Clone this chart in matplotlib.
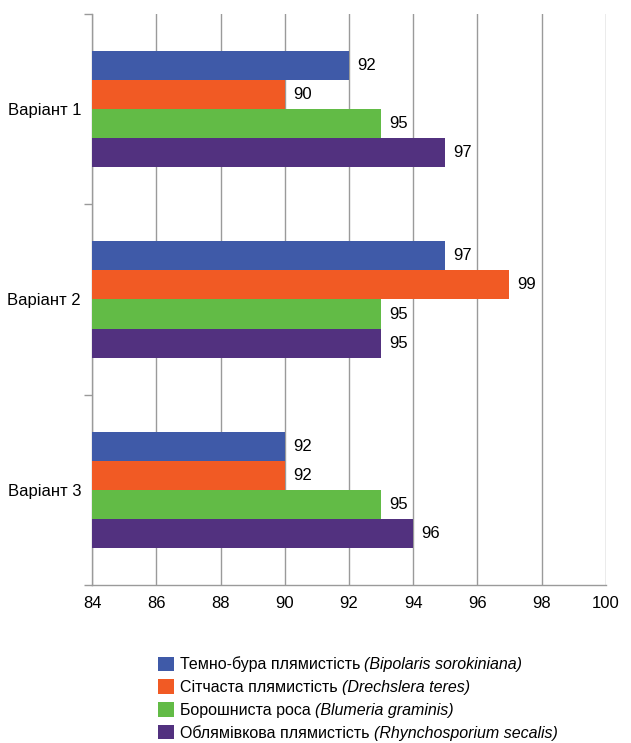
import matplotlib.pyplot as plt
import numpy as np

# ── Data ──────────────────────────────────────────────────────────────────────
variants = ["Варіант 1", "Варіант 2", "Варіант 3"]
series_names = [
    "Темно-бура плямистість",
    "Сітчаста плямистість",
    "Борошниста роса",
    "Облямівкова плямистість",
]
latin_names = [
    "(Bipolaris sorokiniana)",
    "(Drechslera teres)",
    "(Blumeria graminis)",
    "(Rhynchosporium secalis)",
]
# bar lengths as drawn
bar_values = [
    [92, 95, 90],   # темно-бура
    [90, 97, 90],   # сітчаста
    [93, 93, 93],   # борошниста роса
    [95, 93, 94],   # облямівкова
]
# numbers printed next to bars
bar_labels = [
    [92, 97, 92],
    [90, 99, 92],
    [95, 95, 95],
    [97, 95, 96],
]
colors = ["#3F5AA8", "#F15A24", "#62BB46", "#52317F"]
x_min, x_max = 84, 100

plt.rcParams["font.family"] = ["Liberation Sans", "DejaVu Sans"]

# ── Plot ──────────────────────────────────────────────────────────────────────
fig = plt.figure(figsize=(6.31, 7.43), dpi=100)
ax = fig.add_axes([0.146, 0.2127, 0.814, 0.7685])

h = 0.153
y = np.arange(len(variants))
for i, (vals, labs) in enumerate(zip(bar_values, bar_labels)):
    ypos = y + (i - 1.5) * h
    ax.barh(ypos, np.array(vals) - x_min, left=x_min, height=h,
            color=colors[i], label=series_names[i], zorder=3)
    for yy, v, lab in zip(ypos, vals, labs):
        ax.text(v + 0.25, yy, str(lab), va="center", ha="left", fontsize=12, zorder=4)

ax.set_xlim(x_min, x_max)
ax.set_ylim(2.5, -0.5)
ax.set_xticks(np.arange(x_min, x_max + 1, 2))
ax.tick_params(axis="x", labelsize=12, length=0, pad=8)
ax.grid(axis="x", color="#9a9a9a", linewidth=1, zorder=0)

ax.set_yticks([-0.5, 0.5, 1.5, 2.5])
ax.set_yticklabels([])
ax.set_yticks(y, minor=True)
ax.set_yticklabels(variants, minor=True, fontsize=12)
ax.tick_params(axis="y", which="major", length=6, color="#9a9a9a", width=1)
ax.tick_params(axis="y", which="minor", length=0, pad=8)

for s in ["top", "right"]:
    ax.spines[s].set_visible(False)
for s in ["left", "bottom"]:
    ax.spines[s].set_color("#9a9a9a")
    ax.spines[s].set_linewidth(1)

leg = fig.legend(loc="upper left", bbox_to_anchor=(0.25, 0.1165), frameon=False,
                 fontsize=11.5, handlelength=1.0, handleheight=1.0, handletextpad=0.4,
                 labelspacing=0.45, borderpad=0, borderaxespad=0)

# italic latin names after each legend entry
fig.canvas.draw()
renderer = fig.canvas.get_renderer()
inv = fig.transFigure.inverted()
for t, latin in zip(leg.get_texts(), latin_names):
    bb = t.get_window_extent(renderer)
    x1, yc = inv.transform((bb.x1 + 4, (bb.y0 + bb.y1) / 2))
    fig.text(x1, yc, latin, fontsize=11.5, style="italic", ha="left", va="center")

plt.savefig("out.png", dpi=100)
